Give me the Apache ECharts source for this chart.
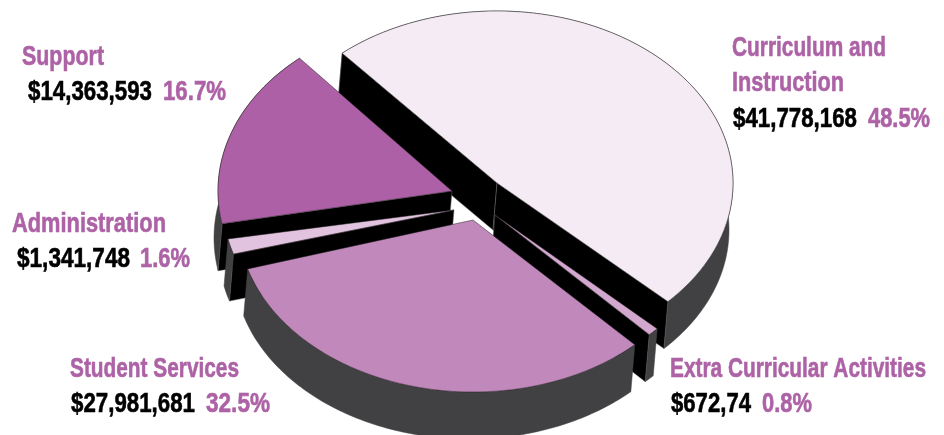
<!DOCTYPE html>
<html>
<head>
<meta charset="utf-8">
<style>html,body{margin:0;padding:0;background:#fff}#chart{width:944px;height:435px}</style>
<script src="https://cdn.jsdelivr.net/npm/echarts@6/dist/echarts.min.js"></script>
</head>
<body>
<div id="chart"></div>
<script>
// Budget shares, in pie order (clockwise from the upper-left cut)
const categories = ['Curriculum and Instruction', 'Extra Curricular Activities', 'Student Services', 'Administration', 'Support'];
const amounts = ['$41,778,168', '$672,74', '$27,981,681', '$1,341,748', '$14,363,593'];
const shares = [48.5, 0.8, 32.5, 1.6, 16.7];

// Presentation of each slice
const topColors = ['#f5ebf4', '#d3a8cf', '#c088bb', '#e1c3df', '#ad60a6'];
const sliceGeometry = [
  { cx: 497, cy: 183, rx: 236, ry: 172, rank: 1 },
  { cx: 495, cy: 215, rx: 224, ry: 165, rank: 2 },
  { cx: 473, cy: 220, rx: 235, ry: 172, rank: 5 },
  { cx: 454, cy: 210, rx: 230, ry: 155, rank: 4 },
  { cx: 452, cy: 191, rx: 234, ry: 175, rank: 3 }
];
const START_ANGLE = -131;
const DEPTH = [-4, 47];
const SIDE_COLOR = '#414042';
const ACCENT = '#ad62a6';
const FONT = 'bold 28px "Liberation Sans Narrow", "Liberation Sans", sans-serif';

// Text blocks: x, baseline, width to fit
const textRuns = [
  { text: 'Support', x: 22, y: 65, w: 82, fill: ACCENT },
  { text: amounts[4], x: 28, y: 100, w: 124, fill: '#000' },
  { text: shares[4] + '%', x: 163, y: 100, w: 63, fill: ACCENT },
  { text: 'Administration', x: 12, y: 232, w: 154, fill: ACCENT },
  { text: amounts[3], x: 17, y: 267, w: 113, fill: '#000' },
  { text: shares[3] + '%', x: 140, y: 267, w: 50, fill: ACCENT },
  { text: 'Curriculum and', x: 732, y: 56, w: 154, fill: ACCENT },
  { text: 'Instruction', x: 732, y: 91, w: 112, fill: ACCENT },
  { text: amounts[0], x: 733, y: 127, w: 124, fill: '#000' },
  { text: shares[0] + '%', x: 868, y: 127, w: 62, fill: ACCENT },
  { text: 'Student Services', x: 70, y: 377, w: 169, fill: ACCENT },
  { text: amounts[2], x: 71, y: 412, w: 124, fill: '#000' },
  { text: shares[2] + '%', x: 206, y: 412, w: 64, fill: ACCENT },
  { text: 'Extra Curricular Activities', x: 670, y: 377, w: 256, fill: ACCENT },
  { text: amounts[1], x: 671, y: 412, w: 80, fill: '#000' },
  { text: shares[1] + '%', x: 762, y: 412, w: 50, fill: ACCENT }
];

const measure = document.createElement('canvas').getContext('2d');
measure.font = FONT;

function textElement(run) {
  return {
    type: 'text',
    x: run.x,
    y: run.y - 8,
    scaleX: run.w / measure.measureText(run.text).width,
    silent: true,
    style: {
      text: run.text, font: FONT, fill: run.fill,
      stroke: run.fill, lineWidth: 0.6,
      verticalAlign: 'middle', align: 'left'
    }
  };
}

const RAD = Math.PI / 180;
const cross = (u, v) => u[0] * v[1] - u[1] * v[0];

// Draws one wedge: outer wall, any cut face turned toward the viewer, then the top surface
function renderSlice(params, api) {
  const i = api.value(0);
  const g = sliceGeometry[i];
  const before = shares.slice(0, i).reduce((a, b) => a + b, 0);
  const a0 = START_ANGLE + before * 3.6;
  const a1 = a0 + api.value(1) * 3.6;
  const apex = [g.cx, g.cy];
  const down = p => [p[0] + DEPTH[0], p[1] + DEPTH[1]];
  const fromApex = p => [p[0] - apex[0], p[1] - apex[1]];

  const arc = [];
  const steps = Math.max(2, Math.ceil(a1 - a0));
  for (let s = 0; s <= steps; s++) {
    const t = (a0 + (a1 - a0) * s / steps) * RAD;
    arc.push([g.cx + g.rx * Math.cos(t), g.cy + g.ry * Math.sin(t)]);
  }
  const first = arc[0];
  const last = arc[arc.length - 1];
  const z = g.rank * 10;

  const cutFace = (p, z2) => ({
    type: 'polygon', z2,
    shape: { points: [apex, p, down(p), down(apex)] },
    style: { fill: '#000', stroke: '#666', lineWidth: 0.5 }
  });

  const children = [{
    type: 'polygon', z2: z,
    shape: { points: arc.concat(arc.slice().reverse().map(down)) },
    style: { fill: SIDE_COLOR, stroke: SIDE_COLOR, lineWidth: 0.5 }
  }];
  if (cross(fromApex(first), DEPTH) < 0) children.push(cutFace(first, z + 1));
  if (cross(fromApex(last), DEPTH) > 0) children.push(cutFace(last, z + 2));
  children.push({
    type: 'polygon', z2: z + 3,
    shape: { points: [apex].concat(arc) },
    style: { fill: api.visual('color'), stroke: '#231f20', lineWidth: 0.5 }
  });
  return { type: 'group', children };
}

const chart = echarts.init(document.getElementById('chart'), null, { renderer: 'canvas' });
chart.setOption({
  animation: false,
  backgroundColor: '#fff',
  series: [{
    type: 'custom',
    coordinateSystem: 'none',
    renderItem: renderSlice,
    encode: { value: 1, itemName: 2 },
    data: shares.map((v, i) => ({
      name: categories[i],
      value: [i, v],
      itemStyle: { color: topColors[i] }
    }))
  }],
  graphic: textRuns.map(textElement)
});
</script>
</body>
</html>
